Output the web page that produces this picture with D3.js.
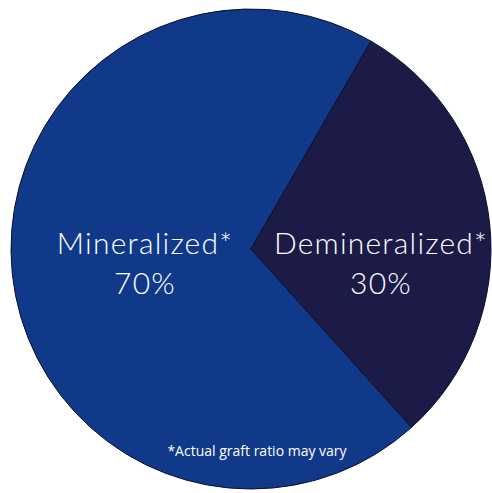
<!DOCTYPE html>
<html><head><meta charset="utf-8">
<script src="https://cdn.jsdelivr.net/npm/d3@7"></script>
<style>html,body{margin:0;padding:0;background:#fff;}svg{display:block;}</style>
</head><body>
<script>
const categories = ["Mineralized*", "Demineralized*"];
const values = [70, 30];
const valueLabels = ["70%", "30%"];
const colors = ["#11398a", "#1c1b47"];
const footnote = "*Actual graft ratio may vary";

const W = 492, H = 493, cx = 251, cy = 249, R = 240;
const svg = d3.select("body").append("svg").attr("width", W).attr("height", H);
const g = svg.append("g").attr("transform", `translate(${cx},${cy})`);

const deg = Math.PI / 180;
const pie = d3.pie().sort(null).value(d => d.v).startAngle(138 * deg).endAngle(498 * deg);
const arcs = pie(categories.map((c, i) => ({c, v: values[i], l: valueLabels[i]})));
const arc = d3.arc().innerRadius(0).outerRadius(R);

g.selectAll("path.slice").data(arcs).join("path")
  .attr("class", "slice")
  .attr("d", arc)
  .attr("fill", (d, i) => colors[i])
  .attr("stroke", "#0b0f2a").attr("stroke-width", 1);

const labelX = [-106, 130];
const lab = g.selectAll("text.lab").data(arcs).join("text")
  .attr("class", "lab")
  .attr("text-anchor", "middle")
  .attr("fill", "#ffffff")
  .style("font-family", "Lato, 'Open Sans', sans-serif")
  .style("font-weight", 300)
  .style("font-size", "30px")
  .style("letter-spacing", "1.2px");
lab.append("tspan").attr("x", (d, i) => labelX[i]).attr("y", 5).text(d => d.data.c);
lab.append("tspan").attr("x", (d, i) => labelX[i]).attr("y", 45).text(d => d.data.l);

g.append("text")
  .attr("x", 6).attr("y", 207)
  .attr("text-anchor", "middle")
  .attr("fill", "#ffffff")
  .style("font-family", "'Open Sans', sans-serif")
  .style("font-size", "14px")
  .text(footnote);
</script>
</body></html>
